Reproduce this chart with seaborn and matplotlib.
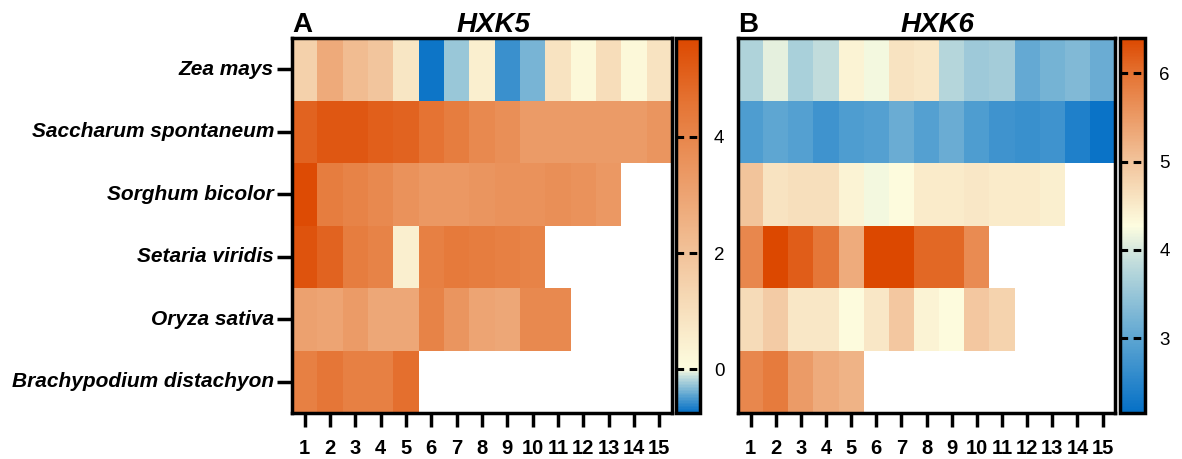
import numpy as np
import pandas as pd
import matplotlib
matplotlib.use("Agg")
import matplotlib.pyplot as plt
from matplotlib.colors import LinearSegmentedColormap
import seaborn as sns

species = ['Zea mays', 'Saccharum spontaneum', 'Sorghum bicolor',
           'Setaria viridis', 'Oryza sativa', 'Brachypodium distachyon']
positions = [str(i) for i in range(1, 16)]
nan = np.nan

# HXK5 values per species
hxk5_zea = [1.5, 2.8, 2.2, 1.9, 0.8, -0.72, -0.25, 0.5, -0.55, -0.35, 0.9, 0.2, 1.1, 0.2, 0.9]
hxk5_sac = [5.0, 5.3, 5.3, 5.1, 5.0, 4.6, 4.3, 3.9, 3.7, 3.3, 3.3, 3.3, 3.3, 3.3, 3.5]
hxk5_sor = [5.6, 4.3, 4.1, 3.9, 3.6, 3.4, 3.4, 3.5, 3.6, 3.6, 3.7, 3.6, 3.4, nan, nan]
hxk5_set = [5.4, 5.0, 4.3, 4.1, 0.5, 4.2, 4.4, 4.3, 4.2, 4.1, nan, nan, nan, nan, nan]
hxk5_ory = [3.1, 3.0, 3.3, 2.9, 2.9, 4.1, 3.5, 3.0, 2.9, 3.9, 3.9, nan, nan, nan, nan]
hxk5_bra = [4.2, 4.5, 4.2, 4.2, 4.7, nan, nan, nan, nan, nan, nan, nan, nan, nan, nan]

# HXK6 values per species
hxk6_zea = [3.7, 4.1, 3.65, 3.85, 4.4, 4.2, 4.6, 4.55, 3.75, 3.55, 3.6, 3.05, 3.2, 3.3, 3.1]
hxk6_sac = [2.85, 3.0, 2.9, 2.7, 2.85, 2.9, 3.1, 2.9, 3.1, 2.85, 2.7, 2.65, 2.7, 2.4, 2.2]
hxk6_sor = [5.0, 4.6, 4.65, 4.65, 4.4, 4.2, 4.3, 4.5, 4.5, 4.55, 4.5, 4.5, 4.45, nan, nan]
hxk6_set = [5.75, 6.4, 6.2, 5.95, 5.3, 6.4, 6.4, 6.1, 6.1, 5.7, nan, nan, nan, nan, nan]
hxk6_ory = [4.7, 4.9, 4.55, 4.55, 4.3, 4.55, 4.95, 4.4, 4.3, 4.95, 4.8, nan, nan, nan, nan]
hxk6_bra = [5.75, 5.9, 5.5, 5.3, 5.2, nan, nan, nan, nan, nan, nan, nan, nan, nan, nan]

hxk5 = pd.DataFrame([hxk5_zea, hxk5_sac, hxk5_sor, hxk5_set, hxk5_ory, hxk5_bra],
                    index=species, columns=positions)
hxk6 = pd.DataFrame([hxk6_zea, hxk6_sac, hxk6_sor, hxk6_set, hxk6_ory, hxk6_bra],
                    index=species, columns=positions)

plt.rcParams['font.family'] = ['Liberation Sans', 'DejaVu Sans']

# blue -> pale yellow -> orange, with the pale centre placed at a given fraction
lo_nodes = [(0.0, '#0570c6'), (0.4, '#5ea6d2'), (0.8, '#c0dcdc'), (1.0, '#fdfde0')]
hi_nodes = [(0.0, '#fdfde0'), (0.34, '#f2c49c'), (0.8, '#e57535'), (1.0, '#dc4800')]


def make_cmap(center):
    nodes = [(p * center, c) for p, c in lo_nodes]
    nodes += [(center + p * (1 - center), c) for p, c in hi_nodes[1:]]
    return LinearSegmentedColormap.from_list('div', nodes)


fig = plt.figure(figsize=(11.82, 4.59), dpi=100)
ax1 = fig.add_axes([0.247, 0.1002, 0.3215, 0.817])
cax1 = fig.add_axes([0.572, 0.1002, 0.0203, 0.817])
ax2 = fig.add_axes([0.6244, 0.1002, 0.319, 0.817])
cax2 = fig.add_axes([0.9475, 0.1002, 0.0215, 0.817])

panels = [
    (ax1, cax1, hxk5, -0.75, 5.7, 0.0, [0, 2, 4], 'A', 'HXK5'),
    (ax2, cax2, hxk6, 2.15, 6.4, 4.27, [3, 4, 5, 6], 'B', 'HXK6'),
]

for ax, cax, df, vmin, vmax, vc, cticks, letter, title in panels:
    cmap = make_cmap((vc - vmin) / (vmax - vmin))
    sns.heatmap(df, ax=ax, cbar_ax=cax, cmap=cmap, vmin=vmin, vmax=vmax,
                linewidths=0, cbar_kws={'ticks': cticks})
    for s in ax.spines.values():
        s.set_visible(True)
        s.set_linewidth(2.5)
        s.set_color('black')
    ax.set_xticklabels(positions, rotation=0, fontsize=14.5, fontweight='bold')
    ax.tick_params(axis='x', length=10, width=2.5, pad=9)
    ax.set_xlabel('')
    ax.set_ylabel('')
    if ax is ax1:
        ax.set_yticklabels(species, rotation=0, fontsize=15, fontweight='bold', style='italic')
        ax.tick_params(axis='y', length=11, width=2.5, pad=2)
    else:
        ax.set_yticks([])
    ax.set_title(title, fontsize=20, fontweight='bold', style='italic', pad=1, x=0.53)
    ax.text(0.0, 1.0, letter, transform=ax.transAxes, fontsize=20, fontweight='bold',
            ha='left', va='bottom')

    cb = ax.collections[0].colorbar
    cb.outline.set_linewidth(2.5)
    cb.outline.set_edgecolor('black')
    cax.tick_params(length=0, labelsize=13.5, pad=10)
    for t in cticks:
        cax.axhline(t, color='black', lw=2.2, ls=(0, (2.5, 1.8)))

fig.savefig('out.png', dpi=100)
